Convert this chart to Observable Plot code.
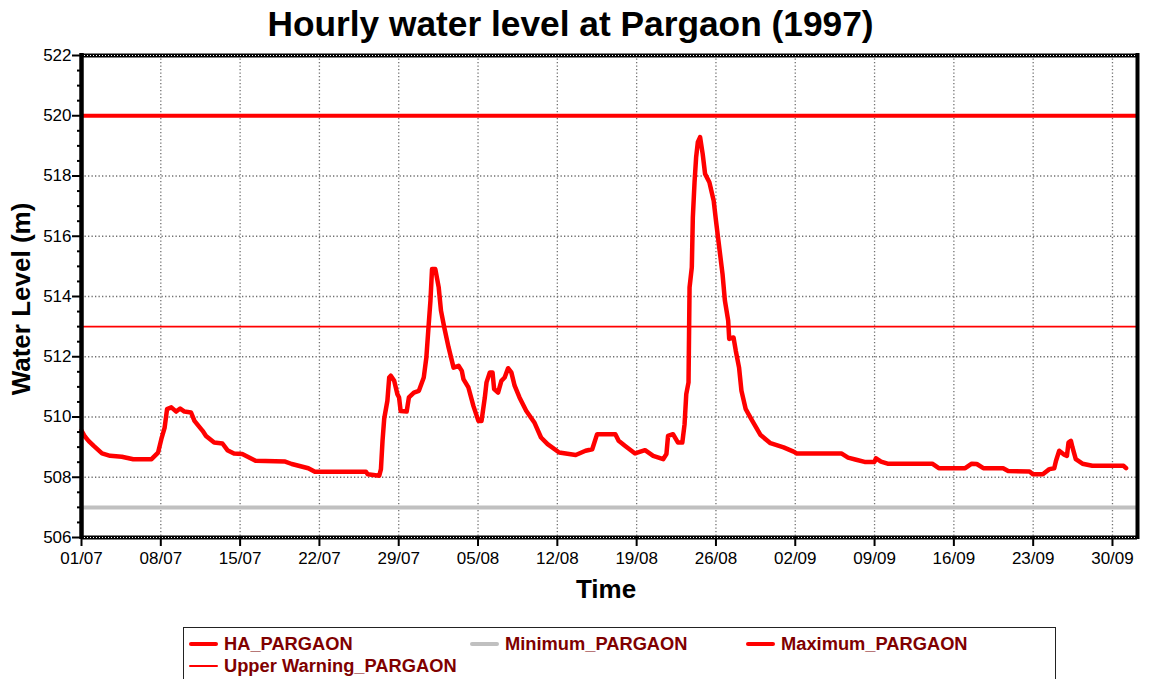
<!DOCTYPE html>
<html><head><meta charset="utf-8">
<script src="https://cdn.jsdelivr.net/npm/d3@7"></script>
<script src="https://cdn.jsdelivr.net/npm/@observablehq/plot@0.6"></script>
<style>
body{margin:0;background:#fff;font-family:"Liberation Sans",Arial,sans-serif;}
#wrap{position:relative;width:1151px;height:679px;overflow:hidden;background:#fff;}
#title{position:absolute;left:0;top:4px;width:1141px;text-align:center;font-size:35.3px;font-weight:bold;color:#000;line-height:1.15;}
#chart{position:absolute;left:0;top:48px;}
.axt{position:absolute;font-size:26px;font-weight:bold;color:#000;white-space:nowrap;transform:translate(-50%,-50%);}
#ylab{transform:translate(-50%,-50%) rotate(-90deg);}
#legend{position:absolute;left:183px;top:627px;width:873px;height:70px;border:1.5px solid #222;box-sizing:border-box;}
.li{position:absolute;display:flex;align-items:center;font-size:18.3px;font-weight:bold;color:#800000;white-space:nowrap;}
.sw{display:inline-block;width:29px;margin-right:6px;border-radius:2px;}
</style></head><body>
<div id="wrap">
  <div id="title"></div>
  <div id="chart"></div>
  <div id="ylab" class="axt" style="left:21px;top:299px;"></div>
  <div id="xlab" class="axt" style="left:606px;top:589px;"></div>
  <div id="legend"></div>
</div>
<script>
// ---- data ----
const titleText = "Hourly water level at Pargaon (1997)";
const yLabelText = "Water Level (m)";
const xLabelText = "Time";
const startDate = "1997-07-01";
const endDate = "1997-10-02T05:00";

// days since 01/07/1997 00:00
const haDays = [0.0,0.3,0.64,1.08,1.81,2.53,3.56,4.57,6.18,6.76,7.05,7.34,7.55,7.93,8.36,8.71,9.09,9.67,9.97,10.69,10.99,11.71,12.44,12.88,13.46,14.19,15.36,17.98,18.56,20.02,20.6,25.11,25.26,26.28,26.43,26.57,26.72,27.0,27.16,27.3,27.6,27.88,28.03,28.17,28.7,28.9,29.34,29.78,30.21,30.44,30.65,30.8,30.94,31.23,31.53,31.73,32.02,32.4,32.84,33.28,33.57,33.71,34.15,34.59,35.03,35.31,35.6,35.75,36.04,36.28,36.42,36.77,37.06,37.35,37.65,37.94,38.23,38.66,39.25,39.97,40.56,41.14,42.16,43.62,44.49,45.08,45.51,47.12,47.41,47.99,48.86,49.74,50.46,51.34,51.63,51.77,52.21,52.65,53.03,53.23,53.38,53.58,53.67,53.87,53.96,54.11,54.25,54.4,54.6,54.83,55.04,55.42,55.8,56.0,56.29,56.58,56.79,57.08,57.17,57.55,57.75,58.04,58.25,58.63,59.21,59.94,60.81,61.97,62.85,63.14,67.07,67.66,68.38,69.12,69.99,70.13,70.57,71.15,75.09,75.67,78.0,78.58,79.02,79.6,81.35,81.79,83.68,83.97,84.85,85.43,85.86,86.01,86.3,86.74,86.98,87.12,87.33,87.47,87.76,88.35,89.22,91.98,92.2];
const haLevels = [509.55,509.35,509.2,509.04,508.79,508.71,508.68,508.6,508.6,508.82,509.27,509.65,510.26,510.32,510.18,510.28,510.18,510.15,509.87,509.54,509.37,509.15,509.12,508.9,508.79,508.77,508.55,508.52,508.44,508.3,508.18,508.18,508.1,508.05,508.27,509.21,509.95,510.54,511.31,511.37,511.2,510.76,510.65,510.2,510.18,510.65,510.81,510.87,511.31,511.98,513.09,513.86,514.91,514.91,514.3,513.53,512.97,512.31,511.64,511.7,511.53,511.26,510.98,510.37,509.87,509.87,510.65,511.15,511.48,511.48,510.93,510.81,511.2,511.31,511.62,511.48,511.04,510.65,510.21,509.82,509.32,509.1,508.82,508.74,508.88,508.93,509.43,509.43,509.21,509.04,508.79,508.9,508.71,508.6,508.77,509.37,509.43,509.15,509.15,509.76,510.76,511.15,514.3,514.97,516.63,517.79,518.62,519.12,519.29,518.73,518.07,517.79,517.18,516.52,515.63,514.75,513.86,513.2,512.59,512.64,512.2,511.64,510.87,510.26,509.87,509.4,509.13,508.99,508.85,508.79,508.79,508.65,508.58,508.51,508.51,508.63,508.52,508.45,508.45,508.3,508.3,508.45,508.44,508.3,508.3,508.21,508.19,508.1,508.1,508.27,508.3,508.54,508.88,508.75,508.71,509.15,509.21,508.99,508.6,508.45,508.38,508.38,508.3];

const seriesName = "HA_PARGAON";
const thresholdNames = ["Minimum_PARGAON", "Maximum_PARGAON", "Upper Warning_PARGAON"];
const thresholdValues = [507, 520, 513];

const xTickLabels = ["01/07","08/07","15/07","22/07","29/07","05/08","12/08","19/08","26/08","02/09","09/09","16/09","23/09","30/09"];
const yTickValues = [506,508,510,512,514,516,518,520,522];
const yMinorTickValues = [506.5,507,507.5,508.5,509,509.5,510.5,511,511.5,512.5,513,513.5,514.5,515,515.5,516.5,517,517.5,518.5,519,519.5,520.5,521,521.5];

// ---- build ----
const t0 = Date.UTC(1997, 6, 1);
const toDate = d => new Date(t0 + d * 864e5);
const ha = haDays.map((d, i) => ({date: toDate(d), level: haLevels[i]}));
const parseTick = d3.utcParse("%d/%m/%Y");
const xTicks = xTickLabels.map(s => parseTick(s + "/1997"));
const xDomain = [new Date(startDate + "T00:00Z"), new Date(endDate + "Z")];
const yDomain = [yTickValues[0], yTickValues[yTickValues.length - 1]];

const RED = "#ff0000", GREY = "#c0c0c0";
const thrStyle = {
  "Minimum_PARGAON": {stroke: GREY, w: 4},
  "Maximum_PARGAON": {stroke: RED, w: 4},
  "Upper Warning_PARGAON": {stroke: RED, w: 1.6}
};
const thr = thresholdNames.map((n, i) => ({name: n, value: thresholdValues[i], ...thrStyle[n]}));

const chart = Plot.plot({
  width: 1151,
  height: 562,
  marginTop: 7,
  marginBottom: 73,
  marginLeft: 81,
  marginRight: 14,
  style: {fontFamily: "'Liberation Sans', Arial, sans-serif", fontSize: "17px", color: "#000", background: "#fff", overflow: "visible"},
  x: {type: "utc", domain: xDomain, axis: null},
  y: {domain: yDomain, axis: null},
  marks: [
    Plot.gridX(xTicks, {stroke: "#707070", strokeOpacity: 1, strokeWidth: 1.3, strokeDasharray: "1.3,2.2"}),
    Plot.gridY(yTickValues, {stroke: "#707070", strokeOpacity: 1, strokeWidth: 1.3, strokeDasharray: "1.3,2.2"}),
    ...thr.map(t => Plot.ruleY([t.value], {stroke: t.stroke, strokeWidth: t.w})),
    Plot.line(ha, {x: "date", y: "level", stroke: RED, strokeWidth: 4.5, strokeLinejoin: "round", strokeLinecap: "round"}),
    // frame
    Plot.ruleY([yDomain[1]], {stroke: "#000", strokeWidth: 4}),
    Plot.ruleY([yDomain[1]], {stroke: "#fff", strokeWidth: 1, strokeDasharray: "1,2"}),
    Plot.ruleY([yDomain[0]], {stroke: "#000", strokeWidth: 4}),
    Plot.ruleY([yDomain[0]], {stroke: "#fff", strokeWidth: 1, strokeDasharray: "1,2"}),
    Plot.ruleX([xDomain[0]], {stroke: "#000", strokeWidth: 4.5, insetTop: -2, insetBottom: -2}),
    Plot.ruleX([xDomain[1]], {stroke: "#000", strokeWidth: 4, insetTop: -2, insetBottom: -2}),
    // axes
    Plot.axisY({ticks: yMinorTickValues, tickSize: 4, strokeWidth: 2, tickFormat: () => "", label: null}),
    Plot.axisY({ticks: yTickValues, tickSize: 9, tickPadding: 1, strokeWidth: 2, tickFormat: d => String(d), label: null, fontSize: 17}),
    Plot.axisX({ticks: xTicks, tickSize: 9, tickPadding: 5, strokeWidth: 2, tickFormat: (d, i) => xTickLabels[i], label: null, fontSize: 17})
  ]
});
document.getElementById("chart").appendChild(chart);

document.getElementById("title").textContent = titleText;
document.getElementById("ylab").textContent = yLabelText;
document.getElementById("xlab").textContent = xLabelText;

// legend
const legend = document.getElementById("legend");
const items = [
  {name: seriesName, stroke: RED, w: 4},
  ...thr.map(t => ({name: t.name, stroke: t.stroke, w: t.w}))
];
const pos = [[5, 5], [286, 5], [562, 5], [5, 27]];
items.forEach((it, i) => {
  const d = document.createElement("div");
  d.className = "li";
  d.style.left = pos[i][0] + "px";
  d.style.top = pos[i][1] + "px";
  const sw = document.createElement("span");
  sw.className = "sw";
  sw.style.height = Math.max(2, it.w) + "px";
  sw.style.background = it.stroke;
  d.appendChild(sw);
  const tx = document.createElement("span");
  tx.textContent = it.name;
  d.appendChild(tx);
  legend.appendChild(d);
});
</script>
</body></html>
